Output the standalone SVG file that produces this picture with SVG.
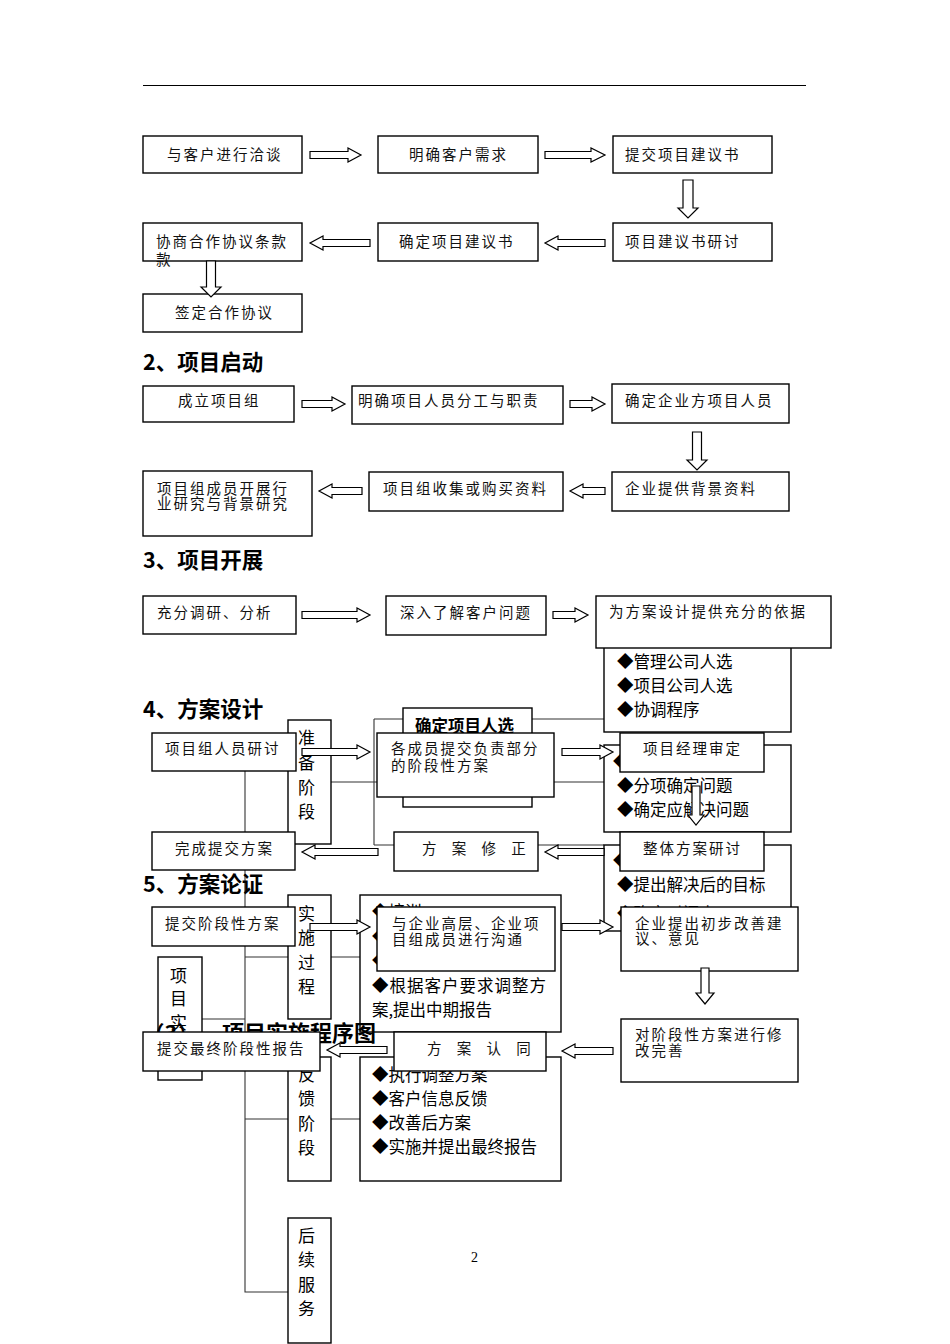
<svg xmlns="http://www.w3.org/2000/svg" width="950" height="1344" viewBox="0 0 950 1344">
<defs>
<style>
.box{fill:#fff;stroke:#000;stroke-width:1.4}
.ln{fill:none;stroke:#333;stroke-width:1.1}
.arr{fill:#fff;stroke:#000;stroke-width:1.2;stroke-linejoin:miter}
.t{font-family:"Noto Sans CJK SC","Noto Sans",sans-serif;font-size:14.5px;letter-spacing:2px;fill:#111}
.sp{letter-spacing:6px}
.h{font-family:"Noto Sans CJK SC","Noto Sans",sans-serif;font-size:21.5px;font-weight:bold;fill:#000}
.b{font-family:"Noto Sans CJK SC","Noto Sans",sans-serif;font-size:16.5px;fill:#000}
.v{font-family:"Noto Sans CJK SC","Noto Sans",sans-serif;font-size:17px;fill:#000}
.bb{font-family:"Noto Sans CJK SC","Noto Sans",sans-serif;font-size:16.5px;font-weight:bold;fill:#000}
</style>
</defs>
<rect width="950" height="1344" fill="#fff"/>
<line x1="143" y1="85.5" x2="806" y2="85.5" stroke="#000" stroke-width="1"/>

<!-- org chart connectors -->
<g id="tree-lines">
<path class="ln" d="M245,771 V1292 H288"/>
<path class="ln" d="M202,1019 H245"/>
<path class="ln" d="M245,957 H288 M331,957 H360"/>
<path class="ln" d="M245,1119 H288 M331,1119 H360"/>
<path class="ln" d="M331,782 H604 M374,719 V845 M374,719 H604 M374,845 H604"/>
</g>

<!-- org chart nodes -->
<g id="root-xmss"><rect class="box" x="158" y="957" width="44" height="123"/>
<text class="v"><tspan x="170" y="982">项</tspan><tspan x="170" y="1005">目</tspan><tspan x="170" y="1029">实</tspan></text></g>

<g id="stage-prep"><rect class="box" x="288" y="720" width="43" height="124"/>
<text class="v"><tspan x="298" y="744">准</tspan><tspan x="298" y="769">备</tspan><tspan x="298" y="794">阶</tspan><tspan x="298" y="818">段</tspan></text></g>
<g id="stage-impl"><rect class="box" x="288" y="895" width="43" height="124"/>
<text class="v"><tspan x="298" y="920">实</tspan><tspan x="298" y="944">施</tspan><tspan x="298" y="969">过</tspan><tspan x="298" y="993">程</tspan></text></g>
<g id="stage-fb"><rect class="box" x="288" y="1057" width="43" height="124"/>
<text class="v"><tspan x="298" y="1081">反</tspan><tspan x="298" y="1105">馈</tspan><tspan x="298" y="1130">阶</tspan><tspan x="298" y="1154">段</tspan></text></g>
<g id="stage-after"><rect class="box" x="288" y="1218" width="43" height="125"/>
<text class="v"><tspan x="298" y="1242">后</tspan><tspan x="298" y="1266">续</tspan><tspan x="298" y="1291">服</tspan><tspan x="298" y="1315">务</tspan></text></g>

<g id="c-staff"><rect class="box" x="403" y="708" width="129" height="99"/>
<text class="bb" x="415" y="732">确定项目人选</text></g>
<g id="c-list1"><rect class="box" x="604" y="640" width="187" height="92"/>
<text class="b" x="617" y="668">◆管理公司人选</text><text class="b" x="617" y="692">◆项目公司人选</text><text class="b" x="617" y="716">◆协调程序</text></g>
<g id="c-list2"><rect class="box" x="604" y="745" width="187" height="87"/>
<text class="b" x="613" y="768">◆</text><text class="b" x="617" y="792">◆分项确定问题</text><text class="b" x="617" y="816">◆确定应解决问题</text></g>
<g id="c-list3"><rect class="box" x="604" y="845" width="187" height="86"/>
<text class="b" x="613" y="867">◆</text><text class="b" x="617" y="891">◆提出解决后的目标</text><text class="b" x="617" y="920">◆确定时间表</text></g>
<g id="c-impl"><rect class="box" x="360" y="895" width="201" height="137"/>
<text class="b" x="372" y="918">◆培训</text><text class="b" x="372" y="943">◆</text><text class="b" x="372" y="967">◆</text>
<text class="b" x="372" y="992" letter-spacing="1">◆根据客户要求调整方</text><text class="b" x="372" y="1016">案,提出中期报告</text></g>
<g id="c-fb"><rect class="box" x="360" y="1057" width="201" height="124"/>
<text class="b" x="372" y="1081">◆执行调整方案</text><text class="b" x="372" y="1105">◆客户信息反馈</text><text class="b" x="372" y="1129">◆改善后方案</text><text class="b" x="372" y="1153">◆实施并提出最终报告</text></g>

<!-- headings -->
<text class="h" x="143" y="370">2、项目启动</text>
<text class="h" x="143" y="568">3、项目开展</text>
<text class="h" x="143" y="717">4、方案设计</text>
<text class="h" x="143" y="892">5、方案论证</text>
<text class="h" y="1041"><tspan x="143">（3）、</tspan><tspan x="222" font-size="22">项目实施程序图</tspan></text>

<!-- flowchart nodes -->
<g id="n1"><rect class="box" x="143" y="136" width="159" height="37"/><text class="t" x="167" y="160">与客户进行洽谈</text></g>
<g id="n2"><rect class="box" x="378" y="136" width="160" height="37"/><text class="t" x="409" y="160">明确客户需求</text></g>
<g id="n3"><rect class="box" x="613" y="136" width="159" height="37"/><text class="t" x="625" y="160">提交项目建议书</text></g>
<g id="n4"><rect class="box" x="613" y="223" width="159" height="38"/><text class="t" x="625" y="247">项目建议书研讨</text></g>
<g id="n5"><rect class="box" x="378" y="223" width="160" height="38"/><text class="t" x="399" y="247">确定项目建议书</text></g>
<g id="n6"><rect class="box" x="143" y="223" width="159" height="38"/><text class="t" x="156" y="247">协商合作协议条款</text><text class="t" x="156" y="265">款</text></g>
<g id="n7"><rect class="box" x="143" y="294" width="159" height="38"/><text class="t" x="175" y="318">签定合作协议</text></g>

<g id="n8"><rect class="box" x="143" y="386" width="151" height="36"/><text class="t" x="178" y="406">成立项目组</text></g>
<g id="n9"><rect class="box" x="352" y="386" width="211" height="38"/><text class="t" x="358" y="406" letter-spacing="2.6">明确项目人员分工与职责</text></g>
<g id="n10"><rect class="box" x="612" y="384" width="177" height="39"/><text class="t" x="625" y="406">确定企业方项目人员</text></g>
<g id="n11"><rect class="box" x="612" y="472" width="177" height="39"/><text class="t" x="625" y="494">企业提供背景资料</text></g>
<g id="n12"><rect class="box" x="369" y="472" width="194" height="39"/><text class="t" x="383" y="494">项目组收集或购买资料</text></g>
<g id="n13"><rect class="box" x="143" y="471" width="169" height="65"/><text class="t" x="157" y="494" letter-spacing="3.8">项目组成员开展行</text><text class="t" x="157" y="509" letter-spacing="3.8">业研究与背景研究</text></g>

<g id="n14"><rect class="box" x="143" y="596" width="153" height="38"/><text class="t" x="157" y="618">充分调研、分析</text></g>
<g id="n15"><rect class="box" x="386" y="596" width="160" height="39"/><text class="t" x="400" y="618">深入了解客户问题</text></g>
<g id="n16"><rect class="box" x="596" y="596" width="235" height="52"/><text class="t" x="609" y="617">为方案设计提供充分的依据</text></g>

<g id="n17"><rect class="box" x="152" y="733" width="144" height="38"/><text class="t" x="165" y="754">项目组人员研讨</text></g>
<g id="n18"><rect class="box" x="377" y="733" width="177" height="64"/><text class="t" x="391" y="754" letter-spacing="2.3">各成员提交负责部分</text><text class="t" x="391" y="771" letter-spacing="2.3">的阶段性方案</text></g>
<g id="n19"><rect class="box" x="620" y="733" width="144" height="39"/><text class="t" x="643" y="754">项目经理审定</text></g>
<g id="n20"><rect class="box" x="620" y="832" width="144" height="39"/><text class="t" x="643" y="854">整体方案研讨</text></g>
<g id="n21"><rect class="box" x="394" y="832" width="144" height="39"/><text class="t sp" x="422" y="854">方 案 修 正</text></g>
<g id="n22"><rect class="box" x="152" y="832" width="143" height="38"/><text class="t" x="175" y="854">完成提交方案</text></g>

<g id="n23"><rect class="box" x="152" y="907" width="143" height="39"/><text class="t" x="165" y="929">提交阶段性方案</text></g>
<g id="n24"><rect class="box" x="377" y="907" width="178" height="64"/><text class="t" x="392" y="929" letter-spacing="2.2">与企业高层、企业项</text><text class="t" x="392" y="945" letter-spacing="2.2">目组成员进行沟通</text></g>
<g id="n25"><rect class="box" x="621" y="907" width="177" height="64"/><text class="t" x="635" y="929" letter-spacing="2.2">企业提出初步改善建</text><text class="t" x="635" y="944" letter-spacing="2.2">议、意见</text></g>
<g id="n26"><rect class="box" x="621" y="1019" width="177" height="63"/><text class="t" x="635" y="1040" letter-spacing="2.2">对阶段性方案进行修</text><text class="t" x="635" y="1056" letter-spacing="2.2">改完善</text></g>
<g id="n27"><rect class="box" x="394" y="1032" width="152" height="39"/><text class="t sp" x="427" y="1054">方 案 认 同</text></g>
<g id="n28"><rect class="box" x="143" y="1032" width="177" height="39"/><text class="t" x="157" y="1054">提交最终阶段性报告</text></g>

<!-- block arrows -->
<g id="connectors">
<path class="arr" d="M310,151.5 H348 V148 L361,155 L348,162 V158.5 H310 Z"/>
<path class="arr" d="M545,151.5 H591 V148 L605,155 L591,162 V158.5 H545 Z"/>
<path class="arr" d="M683,180 V208 H678 L688,218 L698,208 H693 V180 Z"/>
<path class="arr" d="M605,239.5 H558 V236 L545,243 L558,250 V246.5 H605 Z"/>
<path class="arr" d="M370,239.5 H323 V236 L310,243 L323,250 V246.5 H370 Z"/>
<path class="arr" d="M206.5,261 V287 H201 L211,297 L221,287 H215.5 V261 Z"/>

<path class="arr" d="M302,400.5 H332 V397 L345,404 L332,411 V407.5 H302 Z"/>
<path class="arr" d="M570,400.5 H592 V397 L605,404 L592,411 V407.5 H570 Z"/>
<path class="arr" d="M692.5,432 V460 H687 L697,470 L707,460 H701.5 V432 Z"/>
<path class="arr" d="M605,487.5 H583 V484 L570,491 L583,498 V494.5 H605 Z"/>
<path class="arr" d="M362,487.5 H332 V484 L319,491 L332,498 V494.5 H362 Z"/>

<path class="arr" d="M302,611.5 H357 V608 L370,615 L357,622 V618.5 H302 Z"/>
<path class="arr" d="M553,611.5 H575 V608 L588,615 L575,622 V618.5 H553 Z"/>

<path class="arr" d="M302,748.5 H357 V745 L370,752 L357,759 V755.5 H302 Z"/>
<path class="arr" d="M562,748.5 H600 V745 L613,752 L600,759 V755.5 H562 Z"/>
<path class="arr" d="M692,786 V815 H688 L696,825 L704,815 H700 V786 Z"/>
<path class="arr" d="M604,848.5 H558 V845 L545,852 L558,859 V855.5 H604 Z"/>
<path class="arr" d="M378,848.5 H315 V845 L302,852 L315,859 V855.5 H378 Z"/>

<path class="arr" d="M310,923.5 H357 V920 L370,927 L357,934 V930.5 H310 Z"/>
<path class="arr" d="M562,923.5 H600 V920 L613,927 L600,934 V930.5 H562 Z"/>
<path class="arr" d="M701,968 V993 H696 L705,1004 L714,993 H709 V968 Z"/>
<path class="arr" d="M613,1047.5 H575 V1044 L562,1051 L575,1058 V1054.5 H613 Z"/>
<path class="arr" d="M387,1046.5 H340 V1043 L327,1050 L340,1057 V1053.5 H387 Z"/>
</g>

<text x="471" y="1262" font-family="Liberation Serif, serif" font-size="14" fill="#000">2</text>
</svg>
